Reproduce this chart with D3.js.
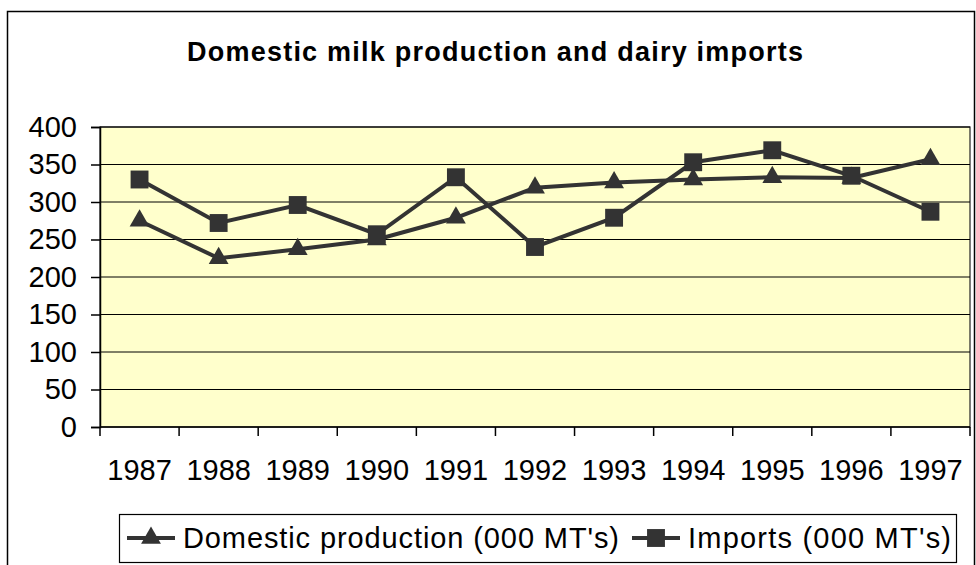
<!DOCTYPE html>
<html>
<head>
<meta charset="utf-8">
<script src="https://cdn.jsdelivr.net/npm/d3@7"></script>
<style>
  body { margin: 0; background: #fff; }
  svg { display: block; font-family: "Liberation Sans", Arial, sans-serif; }
</style>
</head>
<body>
<svg width="976" height="565"></svg>
<script>
var years = ["1987", "1988", "1989", "1990", "1991", "1992", "1993", "1994", "1995", "1996", "1997"];
var domestic = [275, 225, 237, 250, 279, 319, 326, 330, 333, 332, 357];
var imports = [330, 272, 296, 257, 333, 240, 279, 353, 369, 335, 287];
var yTicks = [0, 50, 100, 150, 200, 250, 300, 350, 400];

var svg = d3.select("svg");
var ink = "#333333";

// chart frame
svg.append("rect")
    .attr("x", 7.5).attr("y", 11.5)
    .attr("width", 967).attr("height", 600)
    .attr("fill", "#fff").attr("stroke", "#000").attr("stroke-width", 1.5);

svg.append("text")
    .attr("x", 187).attr("y", 61)
    .attr("font-weight", "bold")
    .attr("font-size", 27)
    .attr("textLength", 616)
    .attr("lengthAdjust", "spacing")
    .text("Domestic milk production and dairy imports");

var plotL = 100, plotR = 970, plotT = 127, plotB = 427;

var x = d3.scaleBand().domain(years).range([plotL, plotR]);
var y = d3.scaleLinear().domain([0, 400]).range([plotB, plotT]);

svg.append("rect")
    .attr("x", plotL).attr("y", plotT)
    .attr("width", plotR - plotL).attr("height", plotB - plotT)
    .attr("fill", "#FFFFCC").attr("stroke", "#222").attr("stroke-width", 1.2);

// gridlines
svg.append("g")
    .selectAll("line")
    .data(yTicks.filter(d => d > 0))
    .enter().append("line")
      .attr("x1", plotL).attr("x2", plotR)
      .attr("y1", d => y(d)).attr("y2", d => y(d))
      .attr("stroke", "#000").attr("stroke-width", 1);

// y axis
var yAxis = svg.append("g")
    .attr("transform", "translate(" + plotL + ",0)")
    .call(d3.axisLeft(y).tickValues(yTicks).tickSize(9).tickPadding(14));
yAxis.selectAll("text")
    .attr("font-size", 29).attr("fill", "#000")
    .attr("font-family", "Liberation Sans, Arial, sans-serif");
yAxis.selectAll("line, path").attr("stroke", "#000").attr("stroke-width", 1.5);

// x axis: ticks on band edges
var xAxis = svg.append("g")
    .attr("transform", "translate(0," + plotB + ")");
xAxis.append("line")
    .attr("x1", plotL).attr("x2", plotR)
    .attr("stroke", "#000").attr("stroke-width", 1.5);
xAxis.selectAll(".tk")
    .data(years.concat(["end"]))
    .enter().append("line")
      .attr("class", "tk")
      .attr("x1", (d, i) => plotL + i * x.step())
      .attr("x2", (d, i) => plotL + i * x.step())
      .attr("y1", 0).attr("y2", 9)
      .attr("stroke", "#000").attr("stroke-width", 1.5);
xAxis.selectAll("text")
    .data(years)
    .enter().append("text")
      .attr("x", d => x(d) + x.bandwidth() / 2)
      .attr("y", 53)
      .attr("text-anchor", "middle")
      .attr("font-size", 29)
      .text(d => d);

var cx = d => x(d) + x.bandwidth() / 2;
var line = d3.line().x((d, i) => cx(years[i])).y(d => y(d));

var tri = d3.symbol().type(d3.symbolTriangle).size(170);
var sq = d3.symbol().type(d3.symbolSquare).size(320);

function drawSeries(vals, sym) {
  var g = svg.append("g");
  g.append("path")
      .datum(vals)
      .attr("d", line)
      .attr("fill", "none")
      .attr("stroke", ink)
      .attr("stroke-width", 4);
  g.selectAll("path.m")
      .data(vals)
      .enter().append("path")
        .attr("class", "m")
        .attr("d", sym)
        .attr("transform", (d, i) => "translate(" + cx(years[i]) + "," + y(d) + ")")
        .attr("fill", ink);
}
drawSeries(domestic, tri);
drawSeries(imports, sq);

// legend
var lg = svg.append("g");
lg.append("rect")
    .attr("x", 119.5).attr("y", 514.5)
    .attr("width", 837).attr("height", 48)
    .attr("fill", "#fff").attr("stroke", "#000").attr("stroke-width", 1.2);

var items = [
  { label: "Domestic production (000 MT's)", sym: tri, x: 127, w: 436 },
  { label: "Imports (000 MT's)", sym: sq, x: 632, w: 263 }
];
items.forEach(function(it) {
  lg.append("line")
      .attr("x1", it.x).attr("x2", it.x + 48)
      .attr("y1", 538).attr("y2", 538)
      .attr("stroke", ink).attr("stroke-width", 4);
  lg.append("path")
      .attr("d", it.sym)
      .attr("transform", "translate(" + (it.x + 24) + ",538)")
      .attr("fill", ink);
  lg.append("text")
      .attr("x", it.x + 56).attr("y", 548)
      .attr("font-size", 29)
      .attr("textLength", it.w)
      .attr("lengthAdjust", "spacing")
      .text(it.label);
});
</script>
</body>
</html>
